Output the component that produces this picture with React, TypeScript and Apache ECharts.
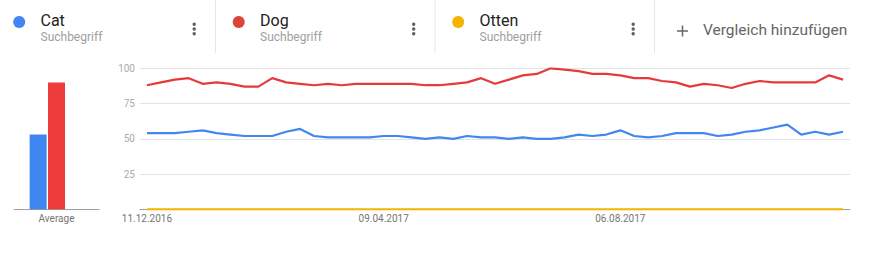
import React, { useEffect, useRef } from "react";
import * as echarts from "echarts";

const terms = ["Cat", "Dog", "Otten"];
const dotColors = ["#4285f4", "#db4437", "#f4b400"];
const lineColors = ["#4286f0", "#e8393a", "#f4b400"];
const barColors = ["#3f87f0", "#ee3b3b", "#f4b400"];
const subtitle = "Suchbegriff";
const addLabel = "Vergleich hinzufügen";
const barCategories = ["Average"];
const averages = [53, 90, 0];

const dates = [
  "11.12.2016", "18.12.2016", "25.12.2016", "01.01.2017", "08.01.2017", "15.01.2017",
  "22.01.2017", "29.01.2017", "05.02.2017", "12.02.2017", "19.02.2017", "26.02.2017",
  "05.03.2017", "12.03.2017", "19.03.2017", "26.03.2017", "02.04.2017", "09.04.2017",
  "16.04.2017", "23.04.2017", "30.04.2017", "07.05.2017", "14.05.2017", "21.05.2017",
  "28.05.2017", "04.06.2017", "11.06.2017", "18.06.2017", "25.06.2017", "02.07.2017",
  "09.07.2017", "16.07.2017", "23.07.2017", "30.07.2017", "06.08.2017", "13.08.2017",
  "20.08.2017", "27.08.2017", "03.09.2017", "10.09.2017", "17.09.2017", "24.09.2017",
  "01.10.2017", "08.10.2017", "15.10.2017", "22.10.2017", "29.10.2017", "05.11.2017",
  "12.11.2017", "19.11.2017", "26.11.2017",
];
const shownDateLabels = ["11.12.2016", "09.04.2017", "06.08.2017"];

const catValues = [
  54, 54, 54, 55, 56, 54, 53, 52, 52, 52, 55, 57, 52, 51, 51, 51, 51, 52, 52, 51,
  50, 51, 50, 52, 51, 51, 50, 51, 50, 50, 51, 53, 52, 53, 56, 52, 51, 52, 54, 54,
  54, 52, 53, 55, 56, 58, 60, 53, 55, 53, 55,
];
const dogValues = [
  88, 90, 92, 93, 89, 90, 89, 87, 87, 93, 90, 89, 88, 89, 88, 89, 89, 89, 89, 89,
  88, 88, 89, 90, 93, 89, 92, 95, 96, 100, 99, 98, 96, 96, 95, 93, 93, 91, 90, 87,
  89, 88, 86, 89, 91, 90, 90, 90, 90, 95, 92,
];
const ottenValues = [
  0, 0, 0, 0, 0, 0, 0, 0, 0, 0, 0, 0, 0, 0, 0, 0, 0, 0, 0, 0,
  0, 0, 0, 0, 0, 0, 0, 0, 0, 0, 0, 0, 0, 0, 0, 0, 0, 0, 0, 0,
  0, 0, 0, 0, 0, 0, 0, 0, 0, 0, 0,
];
const seriesValues = [catValues, dogValues, ottenValues];

const FONT = "Roboto, 'Noto Sans', sans-serif";

function headerGraphics(): any[] {
  const els: any[] = [];
  const cardX = [0, 219.5, 439];
  cardX.forEach((cx, i) => {
    els.push({
      type: "circle",
      shape: { cx: cx + 19.2, cy: 22, r: 6 },
      style: { fill: dotColors[i] },
    });
    els.push({
      type: "text",
      x: cx + 40.5,
      y: 20.7,
      style: {
        text: terms[i],
        fill: "#212121",
        font: `16px ${FONT}`,
        verticalAlign: "middle",
        align: "left",
      },
    });
    els.push({
      type: "text",
      x: cx + 40.5,
      y: 37,
      style: {
        text: subtitle,
        fill: "#9e9e9e",
        font: `12px ${FONT}`,
        verticalAlign: "middle",
        align: "left",
      },
    });
    [24.3, 29, 33.7].forEach((dy) => {
      els.push({
        type: "circle",
        shape: { cx: cx + 194.2, cy: dy, r: 1.7 },
        style: { fill: "#616161" },
      });
    });
    els.push({
      type: "line",
      shape: { x1: cx + 215.5, y1: 0, x2: cx + 215.5, y2: 53 },
      style: { stroke: "#e6e6e6", lineWidth: 1 },
    });
  });
  els.push({
    type: "line",
    shape: { x1: 677, y1: 31, x2: 688, y2: 31 },
    style: { stroke: "#666666", lineWidth: 1.5 },
  });
  els.push({
    type: "line",
    shape: { x1: 682.5, y1: 25.5, x2: 682.5, y2: 36.5 },
    style: { stroke: "#666666", lineWidth: 1.5 },
  });
  els.push({
    type: "text",
    x: 703,
    y: 30,
    style: {
      text: addLabel,
      fill: "#666666",
      font: `15.5px ${FONT}`,
      verticalAlign: "middle",
      align: "left",
    },
  });
  return els;
}

export default function App() {
  const ref = useRef<HTMLDivElement>(null);

  useEffect(() => {
    if (!ref.current) return;
    const chart = echarts.init(ref.current, null, { renderer: "svg" });
    const option: any = {
      animation: false,
      backgroundColor: "#ffffff",
      textStyle: { fontFamily: FONT },
      graphic: headerGraphics(),
      grid: [
        { left: 14, top: 68.3, width: 85, height: 141 },
        { left: 140, top: 68.3, width: 710, height: 141 },
      ],
      xAxis: [
        {
          gridIndex: 0,
          type: "category",
          data: barCategories,
          axisLine: { lineStyle: { color: "#9e9e9e", width: 1 } },
          axisTick: { show: false },
          axisLabel: { color: "#757575", fontSize: 10, margin: 4, fontFamily: FONT },
        },
        {
          gridIndex: 1,
          type: "category",
          data: dates,
          boundaryGap: true,
          axisLine: { lineStyle: { color: "#9e9e9e", width: 1 } },
          axisTick: { show: false },
          axisLabel: {
            color: "#757575",
            fontSize: 10,
            margin: 4,
            fontFamily: FONT,
            interval: (_idx: number, value: string) => shownDateLabels.includes(value),
          },
        },
      ],
      yAxis: [
        {
          gridIndex: 0,
          type: "value",
          min: 0,
          max: 100,
          interval: 25,
          show: false,
        },
        {
          gridIndex: 1,
          type: "value",
          min: 0,
          max: 100,
          interval: 25,
          axisLine: { show: false },
          axisTick: { show: false },
          splitLine: { lineStyle: { color: "#e3e3e3", width: 1 } },
          axisLabel: {
            color: "#aaaaaa",
            fontSize: 10,
            margin: 5,
            fontFamily: FONT,
            formatter: (v: number) => (v === 0 ? "" : String(v)),
          },
        },
      ],
      series: [
        ...terms.map((name, i) => ({
          name: name + " avg",
          type: "bar",
          xAxisIndex: 0,
          yAxisIndex: 0,
          data: [averages[i]],
          barWidth: 17,
          barGap: "8%",
          itemStyle: { color: barColors[i] },
        })),
        ...terms.map((name, i) => ({
          name,
          type: "line",
          xAxisIndex: 1,
          yAxisIndex: 1,
          data: seriesValues[i],
          showSymbol: false,
          symbol: "none",
          z: i === 2 ? 5 : 3,
          lineStyle: { color: lineColors[i], width: 2.2 },
        })),
      ],
    };
    chart.setOption(option);
    return () => chart.dispose();
  }, []);

  return (
    <div
      ref={ref}
      style={{ position: "absolute", left: 0, top: 0, width: 873, height: 268 }}
    />
  );
}
